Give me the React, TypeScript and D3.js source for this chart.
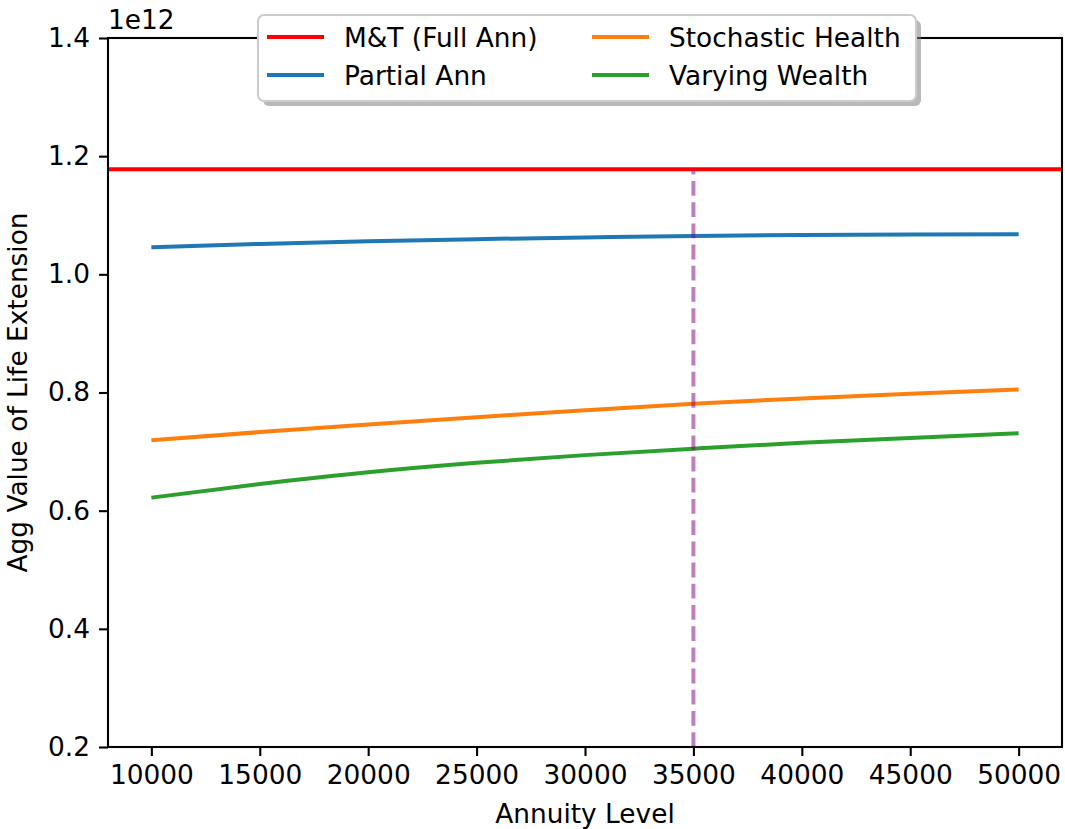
import React, { useEffect, useRef } from 'react';
import * as d3 from 'd3';

const annuityLevels = [10000, 15000, 20000, 25000, 30000, 35000, 40000, 45000, 50000];
const mtFullAnn = 1.178e12;
const partialAnn = [1.046, 1.0515, 1.056, 1.0595, 1.0625, 1.065, 1.0665, 1.0675, 1.068].map(v => v * 1e12);
const stochasticHealth = [0.719, 0.733, 0.746, 0.758, 0.770, 0.781, 0.790, 0.798, 0.805].map(v => v * 1e12);
const varyingWealth = [0.622, 0.645, 0.665, 0.681, 0.694, 0.705, 0.715, 0.723, 0.731].map(v => v * 1e12);
const markerLevel = 35000;
const xTicks = [10000, 15000, 20000, 25000, 30000, 35000, 40000, 45000, 50000];
const yTicks = [0.2, 0.4, 0.6, 0.8, 1.0, 1.2, 1.4];
const legendLabels = ['M&T (Full Ann)', 'Partial Ann', 'Stochastic Health', 'Varying Wealth'];

const W = 1065;
const H = 829;

function App() {
  const ref = useRef<SVGSVGElement>(null);

  useEffect(() => {
    document.body.style.margin = '0';
    document.body.style.overflow = 'hidden';
    const svg = d3.select(ref.current);
    svg.selectAll('*').remove();

    const left = 108, right = 1062, top = 38, bottom = 747;
    const font = 'DejaVu Sans, sans-serif';
    const fs = 26.4;

    const x = d3.scaleLinear().domain([8000, 52000]).range([left, right]);
    const y = d3.scaleLinear().domain([0.2e12, 1.4e12]).range([bottom, top]);

    svg.append('rect').attr('width', W).attr('height', H).attr('fill', 'white');

    const line = d3.line<number>()
      .x((d, i) => x(annuityLevels[i]))
      .y(d => y(d))
      .curve(d3.curveMonotoneX);

    // M&T horizontal reference
    svg.append('line')
      .attr('x1', left).attr('x2', right)
      .attr('y1', y(mtFullAnn)).attr('y2', y(mtFullAnn))
      .attr('stroke', '#ff0000').attr('stroke-width', 4);

    const series = [
      { data: partialAnn, color: '#1f77b4' },
      { data: stochasticHealth, color: '#ff7f0e' },
      { data: varyingWealth, color: '#2ca02c' },
    ];
    series.forEach(s => {
      svg.append('path')
        .attr('d', line(s.data))
        .attr('fill', 'none')
        .attr('stroke', s.color)
        .attr('stroke-width', 4);
    });

    // dashed marker
    svg.append('line')
      .attr('x1', x(markerLevel)).attr('x2', x(markerLevel))
      .attr('y1', y(0.2e12)).attr('y2', y(mtFullAnn))
      .attr('stroke', 'purple').attr('stroke-opacity', 0.5)
      .attr('stroke-width', 4)
      .attr('stroke-dasharray', '14.8,6.4');

    // axes
    const xAxis = svg.append('g')
      .attr('transform', `translate(0,${bottom})`)
      .call(d3.axisBottom(x).tickValues(xTicks).tickFormat(d3.format('d')).tickSize(9).tickPadding(9));
    const yAxis = svg.append('g')
      .attr('transform', `translate(${left},0)`)
      .call(d3.axisLeft(y).tickValues(yTicks.map(v => v * 1e12)).tickFormat(d => (+d / 1e12).toFixed(1)).tickSize(9).tickPadding(9));
    [xAxis, yAxis].forEach(g => {
      g.select('.domain').remove();
      g.selectAll('line').attr('stroke', 'black').attr('stroke-width', 2.1);
      g.selectAll('text').attr('font-family', font).attr('font-size', fs).attr('fill', 'black');
    });

    svg.append('rect')
      .attr('x', left).attr('y', top)
      .attr('width', right - left).attr('height', bottom - top)
      .attr('fill', 'none').attr('stroke', 'black').attr('stroke-width', 2.1);

    svg.append('text').attr('x', left).attr('y', 29)
      .attr('font-family', font).attr('font-size', fs).text('1e12');

    svg.append('text').attr('x', (left + right) / 2).attr('y', 823)
      .attr('text-anchor', 'middle').attr('font-family', font).attr('font-size', fs)
      .text('Annuity Level');
    svg.append('text')
      .attr('transform', `translate(27,${(top + bottom) / 2}) rotate(-90)`)
      .attr('text-anchor', 'middle').attr('font-family', font).attr('font-size', fs)
      .text('Agg Value of Life Extension');

    // legend
    const lg = svg.append('g');
    const lx = 258, ly = 15, lw = 658, lh = 86;
    lg.append('rect').attr('x', lx + 5).attr('y', ly + 5).attr('width', lw).attr('height', lh)
      .attr('rx', 6).attr('fill', '#808080').attr('opacity', 0.55);
    lg.append('rect').attr('x', lx).attr('y', ly).attr('width', lw).attr('height', lh)
      .attr('rx', 6).attr('fill', 'white').attr('stroke', '#cccccc').attr('stroke-width', 2.1);
    const colors = ['#ff0000', '#1f77b4', '#ff7f0e', '#2ca02c'];
    const colX = [267, 592];
    const rowY = [37, 75];
    legendLabels.forEach((label, i) => {
      const cx = colX[Math.floor(i / 2)];
      const cy = rowY[i % 2];
      lg.append('line').attr('x1', cx).attr('x2', cx + 57)
        .attr('y1', cy).attr('y2', cy)
        .attr('stroke', colors[i]).attr('stroke-width', 4);
      lg.append('text').attr('x', cx + 77).attr('y', cy + 9.5)
        .attr('font-family', font).attr('font-size', fs).text(label);
    });
  }, []);

  return <svg ref={ref} width={W} height={H} style={{ display: 'block' }} />;
}

export default App;
